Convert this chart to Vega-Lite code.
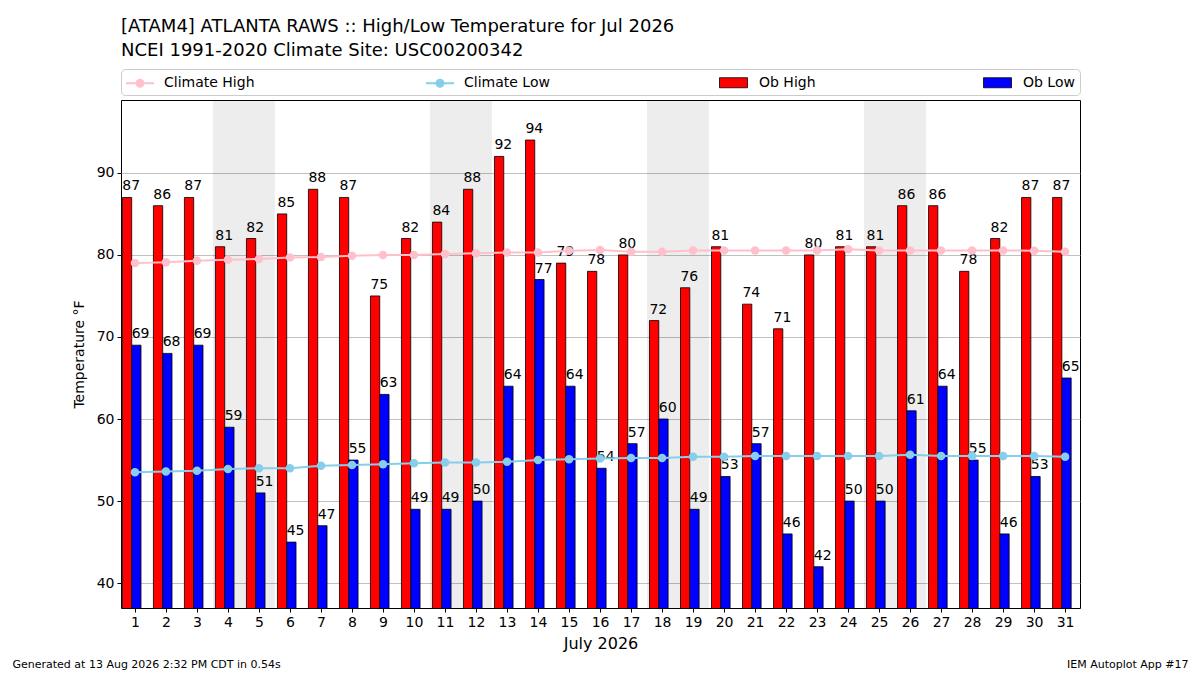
{
  "$schema": "https://vega.github.io/schema/vega-lite/v6.json",
  "description": "High/Low temperature for Jul 2026 at ATAM4 Atlanta RAWS with NCEI climate",
  "width": 959,
  "height": 508,
  "autosize": {"type": "none"},
  "padding": {"left": 121, "top": 100, "right": 120, "bottom": 67},
  "background": "white",
  "title": {
    "text": ["[ATAM4] ATLANTA RAWS :: High/Low Temperature for Jul 2026", "NCEI 1991-2020 Climate Site: USC00200342"],
    "anchor": "start",
    "frame": "group",
    "font": "DejaVu Sans",
    "fontSize": 18,
    "fontWeight": "normal",
    "lineHeight": 24,
    "color": "black",
    "offset": 9
  },
  "config": {
    "view": {"stroke": "black", "strokeWidth": 1},
    "font": "DejaVu Sans",
    "axis": {
      "labelFont": "DejaVu Sans",
      "labelFontSize": 14,
      "labelColor": "black",
      "tickColor": "black",
      "tickSize": 4,
      "labelPadding": 3,
      "titleFont": "DejaVu Sans",
      "titleFontWeight": "normal",
      "titleColor": "black",
      "domain": false,
      "grid": false
    },
    "axisY": {
      "grid": true,
      "gridColor": "#b0b0b0",
      "gridWidth": 0.8,
      "titleFontSize": 14,
      "titlePadding": 10
    },
    "legend": {
      "labelFont": "DejaVu Sans",
      "labelFontSize": 14,
      "labelColor": "black",
      "titleFont": "DejaVu Sans",
      "titleFontSize": 14
    }
  },
  "datasets": {
    "days": [
      {"day": 1, "high": 87, "low": 69, "climo_high": 79.0, "climo_low": 53.5},
      {"day": 2, "high": 86, "low": 68, "climo_high": 79.1, "climo_low": 53.6},
      {"day": 3, "high": 87, "low": 69, "climo_high": 79.3, "climo_low": 53.7},
      {"day": 4, "high": 81, "low": 59, "climo_high": 79.4, "climo_low": 53.9},
      {"day": 5, "high": 82, "low": 51, "climo_high": 79.5, "climo_low": 54.0},
      {"day": 6, "high": 85, "low": 45, "climo_high": 79.7, "climo_low": 54.0},
      {"day": 7, "high": 88, "low": 47, "climo_high": 79.75, "climo_low": 54.3},
      {"day": 8, "high": 87, "low": 55, "climo_high": 79.9, "climo_low": 54.4},
      {"day": 9, "high": 75, "low": 63, "climo_high": 80.0, "climo_low": 54.5},
      {"day": 10, "high": 82, "low": 49, "climo_high": 80.0, "climo_low": 54.6},
      {"day": 11, "high": 84, "low": 49, "climo_high": 80.1, "climo_low": 54.7},
      {"day": 12, "high": 88, "low": 50, "climo_high": 80.2, "climo_low": 54.7},
      {"day": 13, "high": 92, "low": 64, "climo_high": 80.3, "climo_low": 54.8},
      {"day": 14, "high": 94, "low": 77, "climo_high": 80.3, "climo_low": 55.0},
      {"day": 15, "high": 79, "low": 64, "climo_high": 80.5, "climo_low": 55.1},
      {"day": 16, "high": 78, "low": 54, "climo_high": 80.6, "climo_low": 55.2},
      {"day": 17, "high": 80, "low": 57, "climo_high": 80.4, "climo_low": 55.25},
      {"day": 18, "high": 72, "low": 60, "climo_high": 80.4, "climo_low": 55.25},
      {"day": 19, "high": 76, "low": 49, "climo_high": 80.55, "climo_low": 55.4},
      {"day": 20, "high": 81, "low": 53, "climo_high": 80.55, "climo_low": 55.4},
      {"day": 21, "high": 74, "low": 57, "climo_high": 80.55, "climo_low": 55.5},
      {"day": 22, "high": 71, "low": 46, "climo_high": 80.55, "climo_low": 55.5},
      {"day": 23, "high": 80, "low": 42, "climo_high": 80.55, "climo_low": 55.5},
      {"day": 24, "high": 81, "low": 50, "climo_high": 80.7, "climo_low": 55.5},
      {"day": 25, "high": 81, "low": 50, "climo_high": 80.55, "climo_low": 55.5},
      {"day": 26, "high": 86, "low": 61, "climo_high": 80.55, "climo_low": 55.65},
      {"day": 27, "high": 86, "low": 64, "climo_high": 80.55, "climo_low": 55.5},
      {"day": 28, "high": 78, "low": 55, "climo_high": 80.55, "climo_low": 55.5},
      {"day": 29, "high": 82, "low": 46, "climo_high": 80.55, "climo_low": 55.5},
      {"day": 30, "high": 87, "low": 53, "climo_high": 80.5, "climo_low": 55.5},
      {"day": 31, "high": 87, "low": 65, "climo_high": 80.4, "climo_low": 55.4}
    ],
    "weekends": [
      {"start": 4, "end": 5},
      {"start": 11, "end": 12},
      {"start": 18, "end": 19},
      {"start": 25, "end": 26}
    ]
  },
  "resolve": {"axis": {"x": "independent"}},
  "layer": [
    {
      "data": {"name": "weekends"},
      "mark": {"type": "rect", "color": "black", "opacity": 0.07, "xOffset": -15.1, "x2Offset": 15.9},
      "encoding": {
        "x": {"field": "start", "type": "quantitative", "scale": {"domain": [0.55, 31.48], "nice": false, "zero": false, "padding": 0}, "axis": null},
        "x2": {"field": "end"}
      }
    },
    {
      "data": {"name": "days"},
      "mark": {"type": "bar", "width": 9.3, "xOffset": -7.9, "stroke": "black", "strokeWidth": 0.8, "clip": true},
      "encoding": {
        "x": {
          "field": "day",
          "type": "quantitative",
          "axis": {
            "orient": "bottom",
            "values": [1, 2, 3, 4, 5, 6, 7, 8, 9, 10, 11, 12, 13, 14, 15, 16, 17, 18, 19, 20, 21, 22, 23, 24, 25, 26, 27, 28, 29, 30, 31],
            "format": "d",
            "labelOverlap": false,
            "labelFlush": false,
            "title": "July 2026",
            "titleFontSize": 16,
            "titlePadding": 6
          }
        },
        "y": {
          "field": "high",
          "type": "quantitative",
          "scale": {"domain": [36.97, 98.88], "nice": false, "zero": false},
          "title": "Temperature °F",
          "axis": {"values": [40, 50, 60, 70, 80, 90]}
        },
        "fill": {
          "datum": "Ob High",
          "type": "nominal",
          "scale": {"domain": ["Ob High", "Ob Low"], "range": ["#FF0000", "#0000FF"]},
          "legend": {
            "orient": "none",
            "legendX": 598,
            "legendY": -27,
            "direction": "horizontal",
            "columns": 2,
            "gridAlign": "each",
            "columnPadding": 165,
            "title": null,
            "padding": 0,
            "symbolSize": 324,
            "symbolType": "M-1,-0.556H2.111V0.556H-1Z",
            "symbolStrokeColor": "black",
            "symbolStrokeWidth": 0.8,
            "labelOffset": 21
          }
        }
      }
    },
    {
      "data": {"name": "days"},
      "mark": {"type": "bar", "width": 9.3, "xOffset": 1.4, "stroke": "black", "strokeWidth": 0.8, "clip": true},
      "encoding": {
        "x": {
          "field": "day",
          "type": "quantitative",
          "axis": {
            "orient": "bottom",
            "labels": false,
            "ticks": false,
            "domain": false,
            "grid": false,
            "title": "Generated at 13 Aug 2026 2:32 PM CDT in 0.54s",
            "titleFontSize": 11,
            "titleX": -109,
            "titleY": 59,
            "titleAlign": "left",
            "titleBaseline": "alphabetic",
            "titleAngle": 0
          }
        },
        "y": {"field": "low", "type": "quantitative", "title": "Temperature °F"},
        "fill": {"datum": "Ob Low", "type": "nominal"}
      }
    },
    {
      "data": {"name": "days"},
      "mark": {"type": "text", "color": "black", "fontSize": 14, "align": "left", "baseline": "alphabetic", "dx": -12.6, "dy": -7},
      "encoding": {
        "x": {"field": "day", "type": "quantitative", "axis": null},
        "y": {"field": "high", "type": "quantitative", "title": "Temperature °F"},
        "text": {"field": "high", "type": "quantitative"}
      }
    },
    {
      "data": {"name": "days"},
      "mark": {"type": "text", "color": "black", "fontSize": 14, "align": "left", "baseline": "alphabetic", "dx": -3.3, "dy": -7},
      "encoding": {
        "x": {"field": "day", "type": "quantitative", "axis": null},
        "y": {"field": "low", "type": "quantitative", "title": "Temperature °F"},
        "text": {"field": "low", "type": "quantitative"}
      }
    },
    {
      "data": {"name": "days"},
      "mark": {"type": "line", "strokeWidth": 2, "point": {"filled": true, "size": 72, "opacity": 1}},
      "encoding": {
        "x": {
          "field": "day",
          "type": "quantitative",
          "axis": {
            "orient": "bottom",
            "labels": false,
            "ticks": false,
            "domain": false,
            "grid": false,
            "title": "IEM Autoplot App #17",
            "titleFontSize": 11,
            "titleX": 1067,
            "titleY": 59,
            "titleAlign": "right",
            "titleBaseline": "alphabetic",
            "titleAngle": 0
          }
        },
        "y": {"field": "climo_high", "type": "quantitative", "title": "Temperature °F"},
        "color": {
          "datum": "Climate High",
          "type": "nominal",
          "scale": {"domain": ["Climate High", "Climate Low"], "range": ["#FFC0CB", "#87CEEB"]},
          "legend": {
            "orient": "none",
            "legendX": 0,
            "legendY": -31,
            "direction": "horizontal",
            "columns": 2,
            "gridAlign": "each",
            "columnPadding": 167,
            "title": "\u00a0",
            "titleOrient": "right",
            "titlePadding": 526,
            "padding": 4,
            "fillColor": "transparent",
            "strokeColor": "#cccccc",
            "cornerRadius": 4,
            "symbolSize": 324,
            "symbolType": "M-1,0H2.111M0.167,0A0.389,0.389 0 1,1 0.945,0A0.389,0.389 0 1,1 0.167,0M0.334,0A0.222,0.222 0 1,1 0.778,0A0.222,0.222 0 1,1 0.334,0M0.489,0A0.067,0.067 0 1,1 0.623,0A0.067,0.067 0 1,1 0.489,0",
            "symbolStrokeWidth": 2,
            "symbolFillColor": "transparent",
            "labelOffset": 19
          }
        }
      }
    },
    {
      "data": {"name": "days"},
      "mark": {"type": "line", "strokeWidth": 2, "point": {"filled": true, "size": 72, "opacity": 1}},
      "encoding": {
        "x": {"field": "day", "type": "quantitative", "axis": null},
        "y": {"field": "climo_low", "type": "quantitative", "title": "Temperature °F"},
        "color": {"datum": "Climate Low", "type": "nominal"}
      }
    }
  ]
}
